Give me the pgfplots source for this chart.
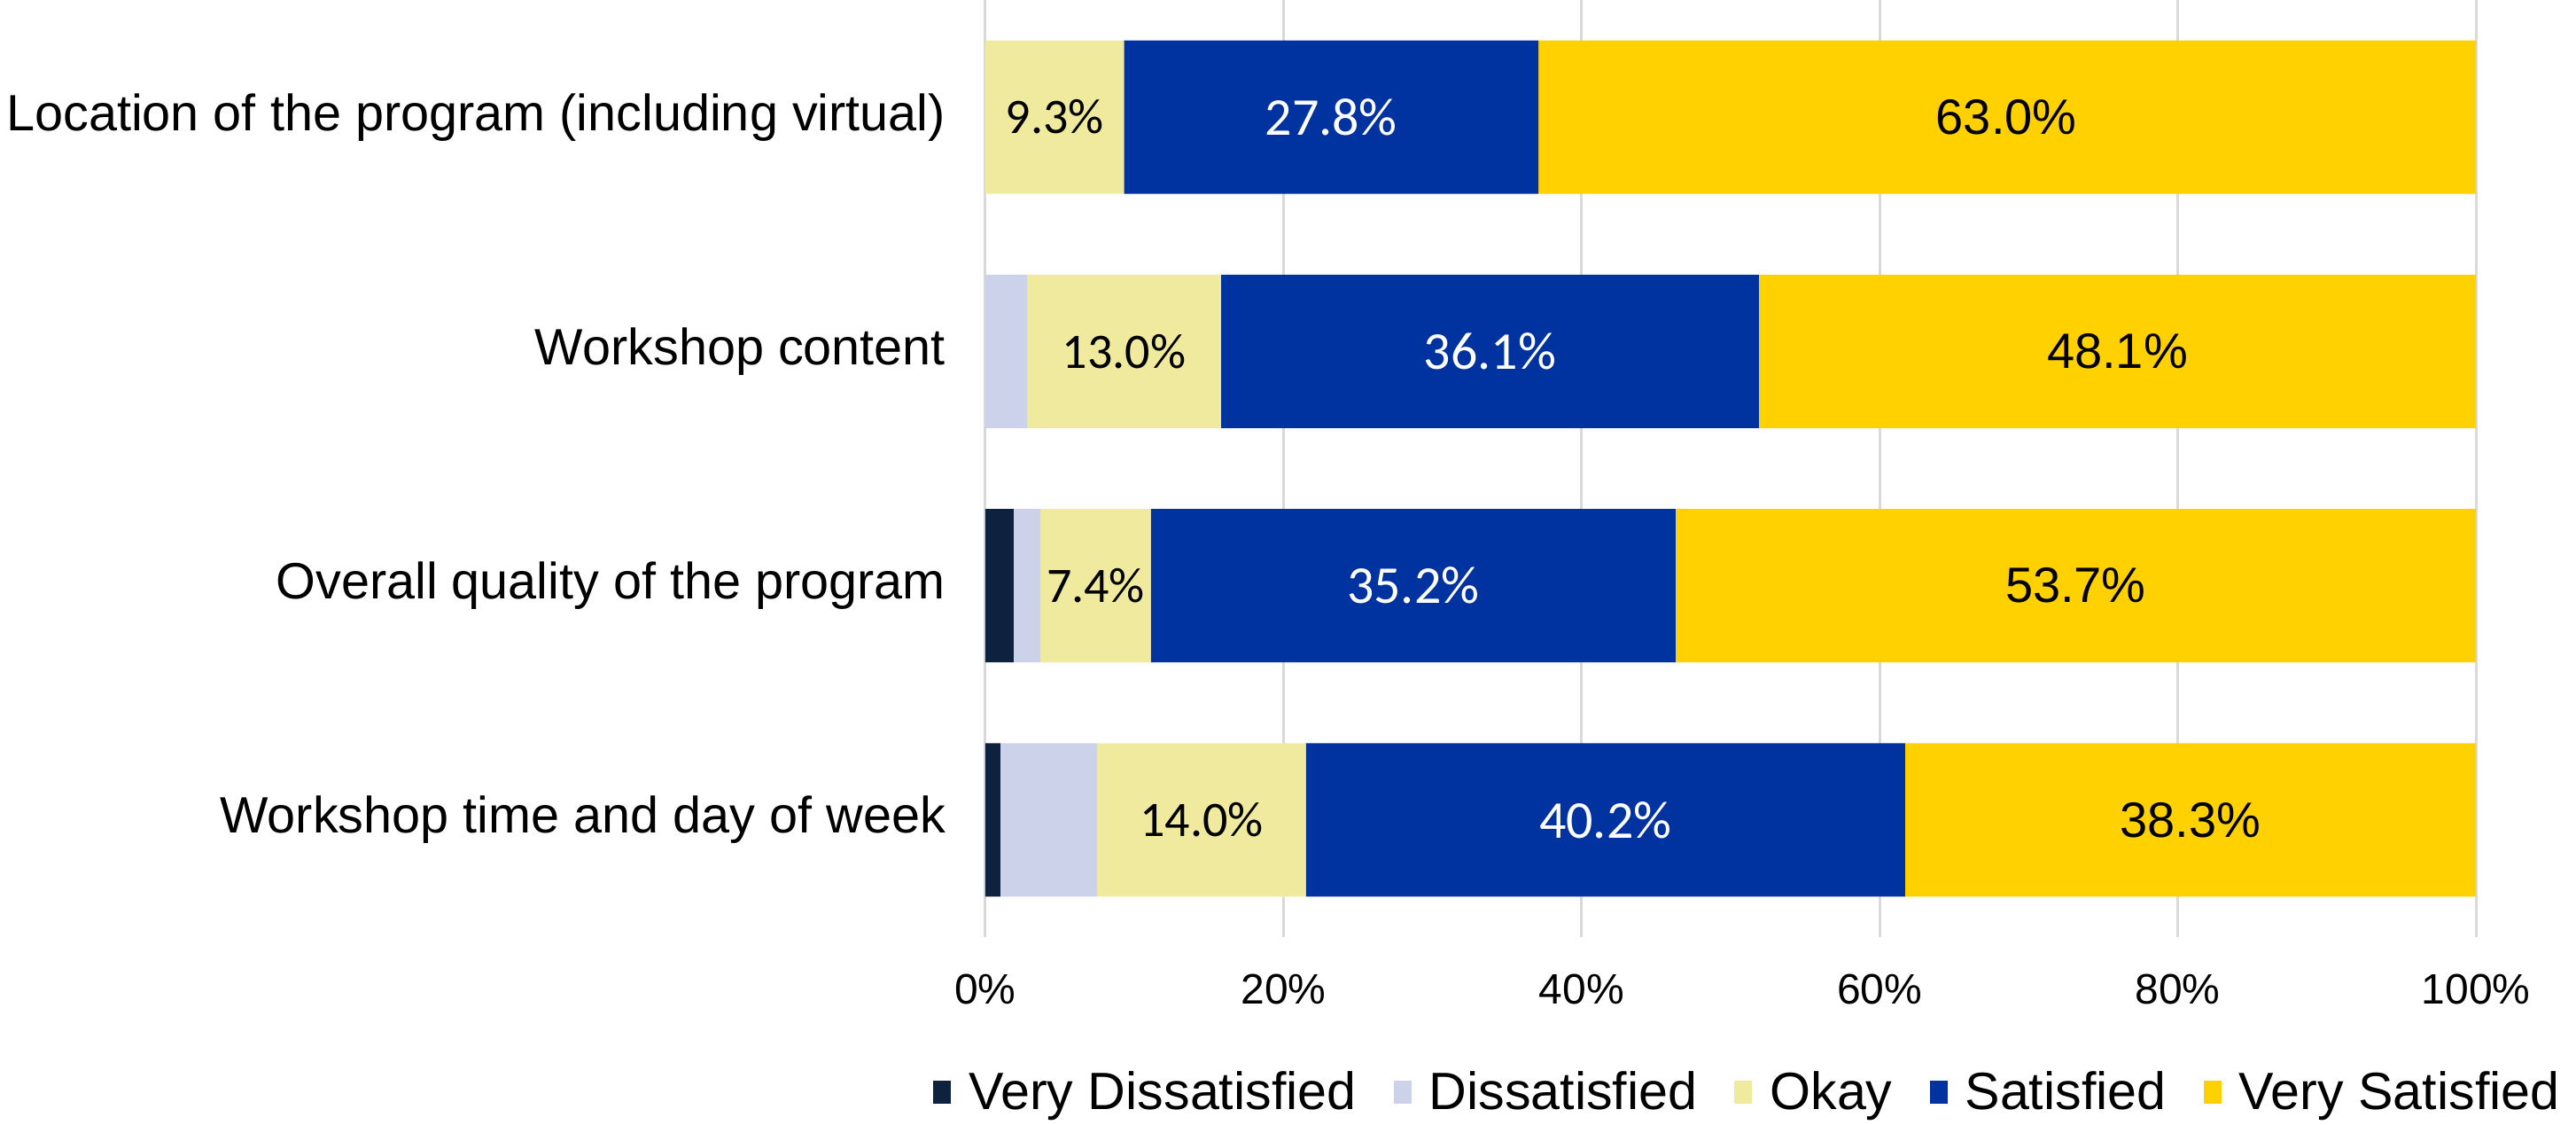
\documentclass[border=0pt]{standalone}
\usepackage{fontspec}
\setmainfont{Liberation Sans}
\newfontfamily\carlito{Carlito}
\usepackage{pgfplots}
\pgfplotsset{compat=1.18}
\usepackage{pgfplotstable}

\definecolor{vdis}{HTML}{0E2240}
\definecolor{dis}{HTML}{CBD2EA}
\definecolor{okay}{HTML}{F0EA9E}
\definecolor{sat}{HTML}{0033A0}
\definecolor{vsat}{HTML}{FFD100}
\definecolor{gridgray}{HTML}{D9D9D9}

% share of respondents (%) per rating, one row per item
\pgfplotstableread{
pos VD  D   Ok   S    VS
0   0   0   9.3  27.8 63.0
1   0   2.8 13.0 36.1 48.1
2   1.9 1.8 7.4  35.2 53.7
3   1.0 6.5 14.0 40.2 38.3
}\ratings

\pgfplotsset{
  base/.style={
    scale only axis, width=420.5pt, height=264.25pt,
    xmin=0, xmax=100, ymin=-0.5, ymax=3.5, y dir=reverse,
    at={(0,0)}, anchor=south west,
    /pgf/number format/assume math mode=true,
  },
  pct/.style={
    draw=none,
    nodes near coords={\pgfmathprintnumber[fixed,fixed zerofill,precision=1]{\pgfplotspointmeta}\%},
    point meta=explicit,
    nodes near coords style={anchor=center, #1},
  },
}

\begin{document}
\begin{tikzpicture}
\begin{axis}[base, name=main,
  xbar stacked, bar width=43.25pt,
  axis line style={draw=none}, tick style={draw=none},
  xmajorgrids, grid style={gridgray, line width=0.75pt},
  xtick={0,20,...,100}, xticklabel={\pgfmathprintnumber{\tick}\%},
  ytick={0,1,2,3},
  yticklabels={Location of the program (including virtual), Workshop content,
    Overall quality of the program, Workshop time and day of week},
  xticklabel style={font=\fontsize{12}{14}\selectfont, yshift=-7pt},
  yticklabel style={font=\fontsize{14.4}{17}\selectfont, xshift=-7.7pt},
  legend style={at={(0.513,-0.1665)}, anchor=center, draw=none,
    font=\fontsize{14.8}{17}\selectfont, inner sep=0pt,
    /tikz/every odd column/.append style={column sep=3pt},
    /tikz/every even column/.append style={column sep=8.5pt}},
  legend columns=-1,
  legend image code/.code={\fill[#1] (0pt,-3pt) rectangle (5pt,3.5pt);},
]
\addplot[fill=vdis, draw=none] table[x=VD, y=pos] {\ratings};
\addplot[fill=dis, draw=none] table[x=D, y=pos] {\ratings};
\addplot[fill=okay, draw=none] table[x=Ok, y=pos] {\ratings};
\addplot[fill=sat, draw=none] table[x=S, y=pos] {\ratings};
\addplot[fill=vsat, draw=none] table[x=VS, y=pos] {\ratings};
\legend{Very Dissatisfied, Dissatisfied, Okay, Satisfied, Very Satisfied}
\end{axis}

% value labels, centred in their segments
\begin{axis}[base, hide axis]
\addplot[pct={font=\carlito\fontsize{14}{16}\selectfont, text=black}]
  table[x expr=\thisrow{VD}+\thisrow{D}+\thisrow{Ok}/2, y=pos, meta=Ok] {\ratings};
\addplot[pct={font=\carlito\fontsize{15}{17}\selectfont, text=white}]
  table[x expr=\thisrow{VD}+\thisrow{D}+\thisrow{Ok}+\thisrow{S}/2, y=pos, meta=S] {\ratings};
\addplot[pct={font=\fontsize{14}{16}\selectfont, text=black}]
  table[x expr=100-\thisrow{VS}/2, y=pos, meta=VS] {\ratings};
\end{axis}

\pgfresetboundingbox
\path (main.south west) ++(-278pt,-53pt) rectangle ++(726.75pt,317.25pt);
\end{tikzpicture}
\end{document}
